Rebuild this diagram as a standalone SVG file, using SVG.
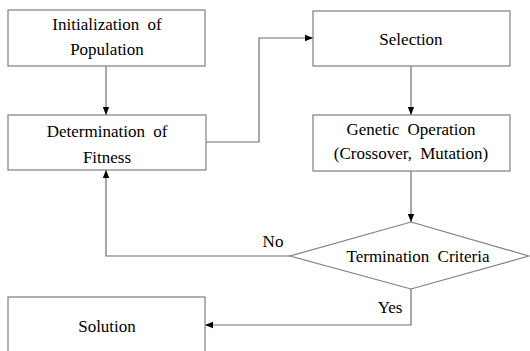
<svg xmlns="http://www.w3.org/2000/svg" width="530" height="351" viewBox="0 0 530 351">
<defs>
<style>
.box{fill:#fff;stroke:#7f7f7f;stroke-width:1.2}
.ln{fill:none;stroke:#6f6f6f;stroke-width:1.2}
.t{font-family:"Liberation Serif","Times New Roman",serif;font-size:17px;fill:#000;text-anchor:middle;word-spacing:4px}
</style>
<marker id="ah" markerWidth="8" markerHeight="8" viewBox="0 0 8 8" refX="8" refY="4" orient="auto" markerUnits="userSpaceOnUse">
<path d="M0,0.8 L8,4 L0,7.2 Z" fill="#000"/>
</marker>
</defs>
<rect width="530" height="351" fill="#fff"/>
<g id="connectors">
<line class="ln" x1="106" y1="66" x2="106" y2="115" marker-end="url(#ah)"/>
<polyline class="ln" points="206,142 259,142 259,38 313,38" marker-end="url(#ah)"/>
<line class="ln" x1="411" y1="66" x2="411" y2="115" marker-end="url(#ah)"/>
<line class="ln" x1="411" y1="171" x2="411" y2="222" marker-end="url(#ah)"/>
<polyline class="ln" points="290,256 106,256 106,170" marker-end="url(#ah)"/>
<polyline class="ln" points="411,289 411,325 205,325" marker-end="url(#ah)"/>
<text class="t" x="273" y="247">No</text>
<text class="t" x="390" y="313">Yes</text>
</g>
<g id="n1"><rect class="box" x="8" y="10" width="197" height="56"/><text class="t" x="107" y="30">Initialization of</text><text class="t" x="107" y="55">Population</text></g>
<g id="n2"><rect class="box" x="8" y="115" width="198" height="55"/><text class="t" x="107" y="137">Determination of</text><text class="t" x="107" y="163">Fitness</text></g>
<g id="n3"><rect class="box" x="313" y="11" width="197" height="55"/><text class="t" x="411" y="45">Selection</text></g>
<g id="n4"><rect class="box" x="313" y="115" width="197" height="56"/><text class="t" x="411" y="135">Genetic Operation</text><text class="t" x="411" y="159">(Crossover, Mutation)</text></g>
<g id="n5"><polygon class="box" points="411,222 529,256 411,289 290,256"/><text class="t" x="418" y="262">Termination Criteria</text></g>
<g id="n6"><rect class="box" x="8" y="297" width="197" height="60"/><text class="t" x="107" y="332">Solution</text></g>
</svg>
